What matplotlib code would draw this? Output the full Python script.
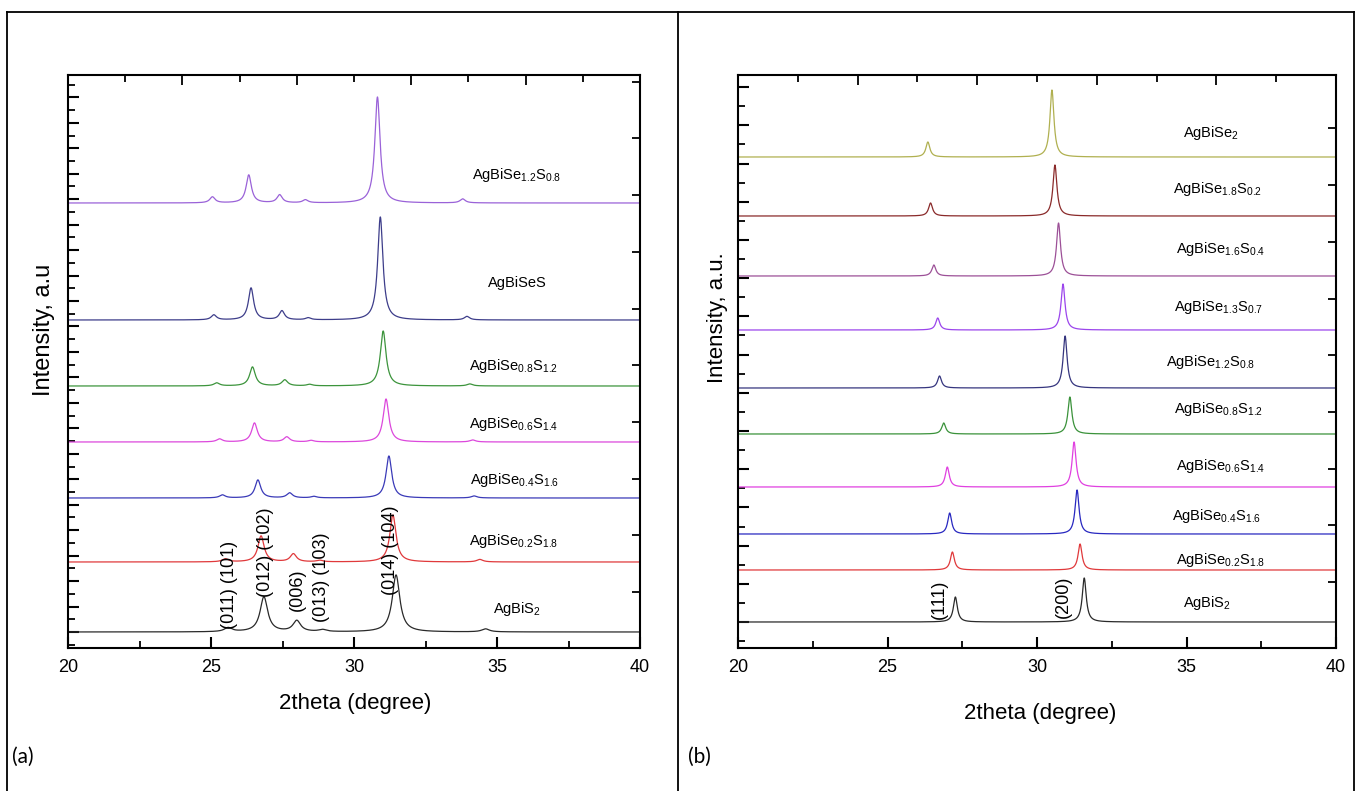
import numpy as np
import matplotlib
matplotlib.use("Agg")
import matplotlib.pyplot as plt
from matplotlib.lines import Line2D
from matplotlib.ticker import MultipleLocator, FixedLocator, NullFormatter
from matplotlib import font_manager

# ---------------- data ----------------
# Panel (a): series listed bottom -> top
a_labels = [r"AgBiS$_2$", r"AgBiSe$_{0.2}$S$_{1.8}$", r"AgBiSe$_{0.4}$S$_{1.6}$",
            r"AgBiSe$_{0.6}$S$_{1.4}$", r"AgBiSe$_{0.8}$S$_{1.2}$", "AgBiSeS",
            r"AgBiSe$_{1.2}$S$_{0.8}$"]
a_colors = ["#2a2a2a", "#e0393b", "#3a3ab8", "#dc48dc", "#3c943c", "#3d3d8a", "#9a62d8"]
a_offsets = [0, 70, 134, 190, 246, 312, 429]
a_peak_pos = [
    [25.6, 26.85, 28.0, 28.9, 31.47, 34.6],
    [25.5, 26.75, 27.88, 28.8, 31.36, 34.4],
    [25.4, 26.64, 27.75, 28.6, 31.22, 34.2],
    [25.3, 26.52, 27.65, 28.5, 31.12, 34.15],
    [25.2, 26.45, 27.58, 28.45, 31.02, 34.05],
    [25.1, 26.40, 27.48, 28.4, 30.92, 33.95],
    [25.05, 26.32, 27.40, 28.3, 30.82, 33.8],
]
a_peak_h = [
    [4, 35, 11, 2, 57, 3],
    [3, 26, 8, 1.5, 47, 2.5],
    [3, 18, 5, 1.5, 42, 2],
    [3, 19, 5, 1.5, 43, 2],
    [3, 19, 6, 1.5, 55, 2],
    [5, 32, 9, 2, 103, 3.5],
    [6, 28, 8, 3, 106, 4],
]
a_width = [0.16, 0.13, 0.12, 0.12, 0.12, 0.11, 0.11]
a_hkl = ["(011) (101)", "(012) (102)", "(006)", "(013) (103)", "(014) (104)"]

# Panel (b): series listed bottom -> top
b_labels = [r"AgBiS$_2$", r"AgBiSe$_{0.2}$S$_{1.8}$", r"AgBiSe$_{0.4}$S$_{1.6}$",
            r"AgBiSe$_{0.6}$S$_{1.4}$", r"AgBiSe$_{0.8}$S$_{1.2}$", r"AgBiSe$_{1.2}$S$_{0.8}$",
            r"AgBiSe$_{1.3}$S$_{0.7}$", r"AgBiSe$_{1.6}$S$_{0.4}$", r"AgBiSe$_{1.8}$S$_{0.2}$",
            r"AgBiSe$_2$"]
b_colors = ["#2a2a2a", "#e0393b", "#2828c0", "#e040e0", "#3a923a", "#35357e",
            "#9b45ec", "#9c5097", "#8a2a2a", "#b0b050"]
b_offsets = [0, 52, 88, 135, 188, 234, 292, 346, 406, 465]
b_peak_pos = [
    [27.27, 31.58], [27.17, 31.44], [27.08, 31.34], [27.00, 31.24], [26.88, 31.10],
    [26.74, 30.94], [26.68, 30.87], [26.55, 30.72], [26.44, 30.60], [26.35, 30.50],
]
b_peak_h = [
    [25, 44], [18, 26], [21, 44], [20, 45], [11, 37],
    [12, 52], [12, 46], [11, 53], [13, 51], [15, 67],
]
b_width = 0.08
b_hkl = ["(111)", "(200)"]

# ---------------- helpers ----------------
avail = {f.name for f in font_manager.fontManager.ttflist}
main_font = "Liberation Sans" if "Liberation Sans" in avail else "DejaVu Sans"
tick_font = "Liberation Sans Narrow" if "Liberation Sans Narrow" in avail else main_font
letter_font = "Lato" if "Lato" in avail else main_font

plt.rcParams["font.family"] = [main_font, "DejaVu Sans"]
plt.rcParams["mathtext.fontset"] = "custom"
plt.rcParams["mathtext.rm"] = main_font
plt.rcParams["mathtext.it"] = main_font
plt.rcParams["mathtext.default"] = "regular"

x = np.linspace(20, 40, 8001)


def profile(pos, hts, w):
    y = np.zeros_like(x)
    for p, h in zip(pos, hts):
        y += h / (1.0 + ((x - p) / w) ** 2)
    return y


W, H = 1361, 791
fig = plt.figure(figsize=(W / 100, H / 100), dpi=100)


def fx(px):
    return px / W


def fy(py):
    return 1 - py / H


# table-like frame
for (x0, y0, x1, y1) in [(7, 12, 1354, 12), (7, 12, 7, 791), (678, 12, 678, 791),
                         (1354, 12, 1354, 791)]:
    fig.add_artist(Line2D([fx(x0), fx(x1)], [fy(y0), fy(y1)], color="black", lw=1.3,
                          transform=fig.transFigure))

axA = fig.add_axes([fx(68), fy(648), fx(640) - fx(68), fy(75) - fy(648)])
axB = fig.add_axes([fx(738), fy(648), fx(1336) - fx(738), fy(75) - fy(648)])


def style(ax, ylim, ymajor, right_ticks):
    ax.set_xlim(20, 40)
    ax.set_ylim(*ylim)
    for s in ax.spines.values():
        s.set_linewidth(1.5)
    ax.xaxis.set_major_locator(MultipleLocator(5))
    ax.xaxis.set_minor_locator(MultipleLocator(2.5))
    ax.yaxis.set_major_locator(MultipleLocator(ymajor))
    ax.yaxis.set_minor_locator(MultipleLocator(ymajor / 2))
    ax.yaxis.set_major_formatter(NullFormatter())
    ax.tick_params(axis="both", which="major", direction="in", length=8, width=1.5,
                   top=False, right=False)
    ax.tick_params(axis="both", which="minor", direction="in", length=5, width=1.3,
                   top=False, right=False)
    ax.tick_params(axis="x", which="major", labelsize=13, pad=8)
    for lab in ax.get_xticklabels():
        lab.set_fontfamily(tick_font)
    # top axis ticks (every 2 degrees)
    top = ax.secondary_xaxis("top")
    top.xaxis.set_major_locator(MultipleLocator(4))
    top.xaxis.set_minor_locator(MultipleLocator(2))
    top.xaxis.set_major_formatter(NullFormatter())
    top.tick_params(which="major", direction="in", length=7, width=1.3)
    top.tick_params(which="minor", direction="in", length=5, width=1.3)
    top.spines["top"].set_visible(False)
    # right axis ticks
    rt = ax.twinx()
    rt.set_ylim(*ylim)
    rt.yaxis.set_major_locator(FixedLocator(right_ticks))
    rt.yaxis.set_major_formatter(NullFormatter())
    rt.tick_params(axis="y", direction="in", length=6, width=1.3)
    for s in rt.spines.values():
        s.set_visible(False)


style(axA, (-16, 557), 25.46, np.arange(40, 557, 56.7))
style(axB, (-26, 547), 38.2, np.arange(40, 547, 56.7))

LABEL_FS = 10.5

# panel (a) traces
for lab, c, off, pp, ph, w in zip(a_labels, a_colors, a_offsets, a_peak_pos, a_peak_h, a_width):
    axA.plot(x, off + profile(pp, ph, w), color=c, lw=0.9)

a_lab_pos = [(34.86, 23), (34.03, 91), (34.06, 152), (34.03, 208), (34.03, 266),
             (34.69, 349), (34.13, 457)]
for lab, (tx, ty) in zip(a_labels, a_lab_pos):
    axA.text(tx, ty, lab, fontsize=LABEL_FS, ha="left", va="center")

a_hkl_pos = [(25.63, 47), (26.92, 80), (28.01, 42), (28.88, 55), (31.26, 82)]
for lab, (tx, ty) in zip(a_hkl, a_hkl_pos):
    axA.text(tx, ty, lab, fontsize=13, rotation=90, ha="center", va="center")

# panel (b) traces
for lab, c, off, pp, ph in zip(b_labels, b_colors, b_offsets, b_peak_pos, b_peak_h):
    axB.plot(x, off + profile(pp, ph, b_width), color=c, lw=0.9)

b_lab_pos = [(34.88, 19), (34.65, 62), (34.52, 106), (34.65, 156), (34.58, 213),
             (34.31, 260), (34.58, 315), (34.65, 373), (34.55, 433), (34.88, 489)]
for lab, (tx, ty) in zip(b_labels, b_lab_pos):
    axB.text(tx, ty, lab, fontsize=LABEL_FS, ha="left", va="center")

b_hkl_pos = [(26.75, 23), (30.87, 25)]
for lab, (tx, ty) in zip(b_hkl, b_hkl_pos):
    axB.text(tx, ty, lab, fontsize=13, rotation=90, ha="center", va="center")

# axis labels
fig.text(fx(44), fy(330), "Intensity, a.u", rotation=90, fontsize=17, ha="center", va="center")
fig.text(fx(717), fy(318), "Intensity, a.u.", rotation=90, fontsize=16, ha="center", va="center")
fig.text(fx(355), fy(703), "2theta (degree)", fontsize=16, ha="center", va="center",
         fontfamily=tick_font)
fig.text(fx(1040), fy(714), "2theta (degree)", fontsize=16, ha="center", va="center",
         fontfamily=tick_font)

# panel letters
fig.text(fx(12), fy(757), "(a)", fontsize=15, ha="left", va="center", fontfamily=letter_font)
fig.text(fx(688), fy(757), "(b)", fontsize=15, ha="left", va="center", fontfamily=letter_font)

fig.savefig("out.png", dpi=100)
